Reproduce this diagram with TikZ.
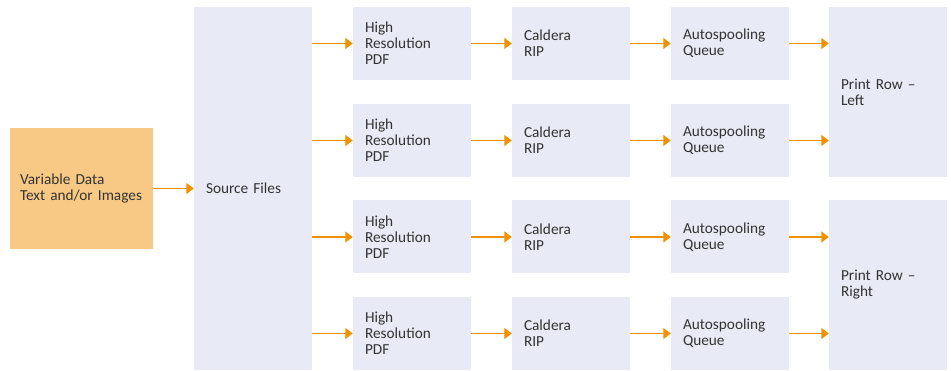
\documentclass[tikz,border=0pt]{standalone}
\usepackage{fontspec}
\setmainfont{Carlito}
\usetikzlibrary{arrows.meta}
\definecolor{boxblue}{HTML}{E8EBF5}
\definecolor{boxorange}{HTML}{F8C985}
\definecolor{arrcol}{HTML}{F39200}
\definecolor{txtcol}{HTML}{333333}
\begin{document}
\begin{tikzpicture}[x=1pt,y=-1pt,
  box/.style={fill=boxblue, draw=none, inner xsep=12pt, inner ysep=0pt,
    text width=94pt, align=left, minimum height=73pt,
    font=\fontsize{15.3}{16}\selectfont, text=txtcol},
  conn/.style={draw=arrcol, line width=1.3pt, -{Triangle[length=7.5pt,width=11pt]}}]
\useasboundingbox (0,0) rectangle (951,371);
\node[box, fill=boxorange, text width=123pt, inner xsep=10pt, minimum height=121pt] (var) at (81.5,188.5) {Variable Data\\Text and/or Images};
\node[box, minimum height=363pt] (src) at (253,188.5) {Source Files};
\node[box, minimum height=170pt] (pl) at (888,92) {Print Row --\\Left};
\node[box, minimum height=170pt] (pr) at (888,285) {Print Row --\\Right};
\draw[conn] (var) -- (src);
\foreach \i/\y/\t in {1/43.5/pl,2/140.5/pl,3/237/pr,4/333.5/pr}{
  \node[box] (p\i) at (412,\y) {High\\Resolution\\PDF};
  \node[box] (c\i) at (571,\y) {Caldera\\RIP};
  \node[box] (q\i) at (730,\y) {Autospooling\\Queue};
  \draw[conn] (src.east |- p\i.west) -- (p\i.west);
  \draw[conn] (p\i) -- (c\i);
  \draw[conn] (c\i) -- (q\i);
  \draw[conn] (q\i.east) -- (q\i.east -| \t.west);
}
\end{tikzpicture}
\end{document}
